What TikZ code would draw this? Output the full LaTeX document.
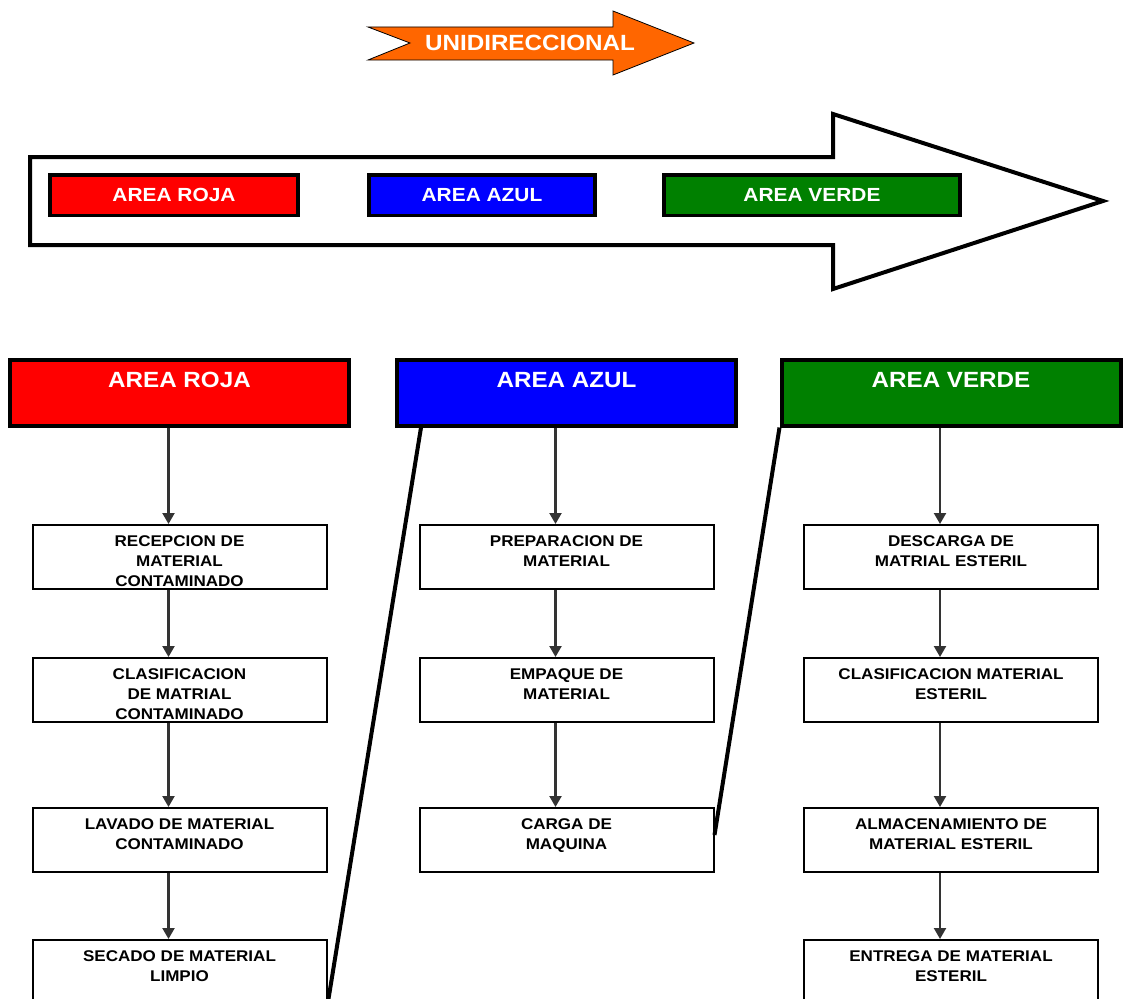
\documentclass[tikz,border=0pt]{standalone}
\usepackage{fontspec}
\usepackage{xcolor}
\usepackage{tikz}
\usetikzlibrary{arrows.meta,positioning,calc}
\newfontfamily\arialfont[FakeStretch=1.1]{Liberation Sans}
\definecolor{rojo}{RGB}{255,0,0}
\definecolor{azul}{RGB}{0,0,255}
\definecolor{verde}{RGB}{0,128,0}
\definecolor{naranja}{RGB}{255,102,0}
\newcommand{\txtpaso}[1]{\parbox[c][42pt][t]{285pt}{\centering #1}}
\tikzset{
  hdr/.style   ={rectangle,draw,line width=4pt,minimum width=339pt,inner sep=0pt,text height=28pt,text depth=38pt,
                 text=white,font=\arialfont\bfseries\fontsize{22}{26}\selectfont},
  etiq/.style  ={rectangle,draw,line width=3.5pt,minimum height=40.5pt,inner sep=0pt,
                 text=white,font=\arialfont\bfseries\fontsize{19}{22}\selectfont},
  paso/.style  ={rectangle,draw,line width=2pt,minimum width=294pt,minimum height=64pt,inner sep=0pt,
                 font=\arialfont\bfseries\fontsize{15.5}{20}\selectfont},
  flecha/.style={black!80,line width=2.2pt,-{Triangle[length=11pt,width=12pt]}},
  cruce/.style ={line width=4pt},
}

\begin{document}
\begin{tikzpicture}[x=1pt,y=-1pt]
  \useasboundingbox (0,0) rectangle (1123,998);
  \clip (0,0) rectangle (1123,998);
  \draw[fill=naranja,line width=0.8pt] (368,27) -- (613,27) -- (613,11) -- (694,43) -- (613,75) -- (613,60) -- (368,60) -- (410,43) -- cycle;
  \node[text=white,inner sep=0pt,font=\arialfont\bfseries\fontsize{22}{26}\selectfont] (uni) at (530,43) {UNIDIRECCIONAL};
  \draw[line width=4pt,fill=white] (30,157) -- (833,157) -- (833,114) -- (1103,201) -- (833,289) -- (833,245) -- (30,245) -- cycle;
  \node[etiq,fill=rojo,minimum width=248pt]  (tro) at (174,195) {AREA ROJA};
  \node[etiq,fill=azul,minimum width=226pt]  (taz) at (482,195) {AREA AZUL};
  \node[etiq,fill=verde,minimum width=296pt] (tve) at (812,195) {AREA VERDE};

  \node[hdr,fill=rojo]  (ro) at (179.5,392.5) {AREA ROJA};
  \node[hdr,fill=azul]  (az) at (566.5,392.5) {AREA AZUL};
  \node[hdr,fill=verde] (ve) at (951,392.5)   {AREA VERDE};

  \node[paso] (r1) at (179.5,557) {\txtpaso{RECEPCION DE\\MATERIAL\\CONTAMINADO}};
  \node[paso,below=67pt of r1] (r2) {\txtpaso{CLASIFICACION\\DE MATRIAL\\CONTAMINADO}};
  \node[paso,below=84pt of r2] (r3) {\txtpaso{LAVADO DE MATERIAL\\CONTAMINADO}};
  \node[paso,below=66pt of r3] (r4) {\txtpaso{SECADO DE MATERIAL\\LIMPIO}};

  \node[paso] (a1) at (566.5,557) {\txtpaso{PREPARACION DE\\MATERIAL}};
  \node[paso,below=67pt of a1] (a2) {\txtpaso{EMPAQUE DE\\MATERIAL}};
  \node[paso,below=84pt of a2] (a3) {\txtpaso{CARGA DE\\MAQUINA}};

  \node[paso] (v1) at (951,557) {\txtpaso{DESCARGA DE\\MATRIAL ESTERIL}};
  \node[paso,below=67pt of v1] (v2) {\txtpaso{CLASIFICACION MATERIAL\\ESTERIL}};
  \node[paso,below=84pt of v2] (v3) {\txtpaso{ALMACENAMIENTO DE\\MATERIAL ESTERIL}};
  \node[paso,below=66pt of v3] (v4) {\txtpaso{ENTREGA DE MATERIAL\\ESTERIL}};

  \draw[flecha]([xshift=-11pt]ro.south)--([xshift=-11pt]r1.north); \draw[flecha]([xshift=-11pt]r1.south)--([xshift=-11pt]r2.north);
  \draw[flecha]([xshift=-11pt]r2.south)--([xshift=-11pt]r3.north); \draw[flecha]([xshift=-11pt]r3.south)--([xshift=-11pt]r4.north);
  \draw[flecha]([xshift=-11pt]az.south)--([xshift=-11pt]a1.north); \draw[flecha]([xshift=-11pt]a1.south)--([xshift=-11pt]a2.north);
  \draw[flecha]([xshift=-11pt]a2.south)--([xshift=-11pt]a3.north);
  \draw[flecha]([xshift=-11pt]ve.south)--([xshift=-11pt]v1.north); \draw[flecha]([xshift=-11pt]v1.south)--([xshift=-11pt]v2.north);
  \draw[flecha]([xshift=-11pt]v2.south)--([xshift=-11pt]v3.north); \draw[flecha]([xshift=-11pt]v3.south)--([xshift=-11pt]v4.north);

  \draw[cruce]([xshift=26pt]az.south west)--(r4.south east);
  \draw[cruce](ve.south west)--([yshift=5pt]a3.east);
\end{tikzpicture}
\end{document}
